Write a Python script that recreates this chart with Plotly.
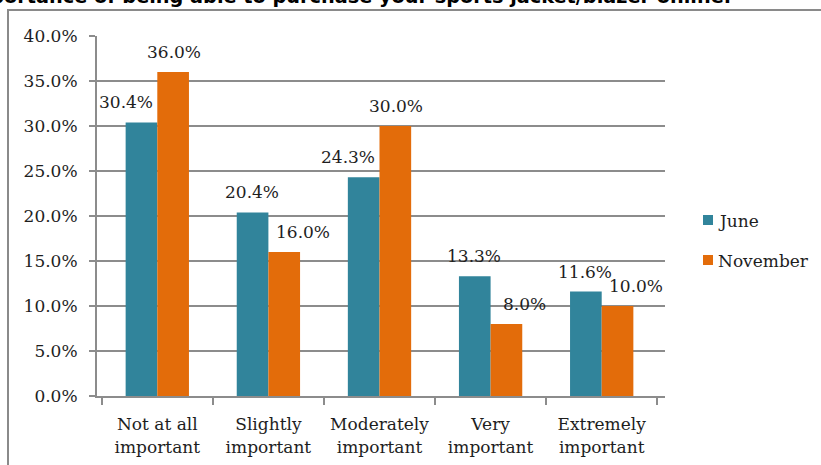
import plotly.graph_objects as go

categories = ["Not at all<br>important", "Slightly<br>important", "Moderately<br>important",
              "Very<br>important", "Extremely<br>important"]
series_names = ["June", "November"]
june = [30.4, 20.4, 24.3, 13.3, 11.6]
november = [36.0, 16.0, 30.0, 8.0, 10.0]
y_ticks = [0, 5, 10, 15, 20, 25, 30, 35, 40]
title_text = "Importance of being able to purchase your sports jacket/blazer online."

JUNE_COLOR = "#31849B"
NOV_COLOR = "#E36C0A"
GRID = "#8C8C8C"
SERIF = "DejaVu Serif, Liberation Serif, serif"
TXT = "#1E1E1E"

W, H = 821, 465
L, R, T, B = 97, 156, 36, 69
PW, PH = W - L - R, H - T - B


def px_x(x):
    return (x - L) / PW


def px_y(y):
    return (H - B - y) / PH


fig = go.Figure()
for name, vals, col in zip(series_names, (june, november), (JUNE_COLOR, NOV_COLOR)):
    fig.add_trace(go.Bar(name=name, x=categories, y=vals, marker_color=col,
                         marker_line_width=0, showlegend=False))

# value labels; when a bar is the shorter of its pair its label is nudged outward
half = 16.3
for i, c in enumerate(categories):
    j, n = june[i], november[i]
    jshift = -half - (15 if j < n else 0)
    nshift = half + (18 if n < j else 0)
    for val, xs in ((j, jshift), (n, nshift)):
        fig.add_annotation(x=c, y=val, xref="x", yref="y", text=f"{val:.1f}%",
                           showarrow=False, xshift=xs, yanchor="bottom", yshift=8,
                           font=dict(family=SERIF, size=17, color=TXT))

# legend: colour key squares with series names beside them
for k, (name, col) in enumerate(zip(series_names, (JUNE_COLOR, NOV_COLOR))):
    top = 215 + 40 * k
    fig.add_shape(type="rect", xref="paper", yref="paper",
                  x0=px_x(703), x1=px_x(713), y0=px_y(top + 10), y1=px_y(top),
                  line_width=0, fillcolor=col)
    fig.add_annotation(x=px_x(716), y=px_y(top + 6), xref="paper", yref="paper",
                       xanchor="left", yanchor="middle", showarrow=False, text=name,
                       font=dict(family=SERIF, size=17, color=TXT))

# chart title (runs off the top-left edge of the frame)
fig.add_annotation(x=px_x(733), y=px_y(10), xref="paper", yref="paper",
                   xanchor="right", yanchor="bottom", showarrow=False,
                   text=f"<b>{title_text}</b>",
                   font=dict(family="DejaVu Sans, Liberation Sans, sans-serif", size=19.3,
                             color="#000000"))

# outer frame
fig.add_shape(type="rect", xref="paper", yref="paper",
              x0=px_x(8), x1=px_x(835), y0=px_y(480), y1=px_y(10),
              line=dict(color="#8A8A8A", width=2), fillcolor="rgba(0,0,0,0)", layer="below")

fig.update_layout(
    width=W, height=H,
    margin=dict(l=L, r=R, t=T, b=B, autoexpand=False),
    paper_bgcolor="white", plot_bgcolor="white",
    barmode="group", bargap=0.43, bargroupgap=0,
    showlegend=False,
    xaxis=dict(showline=True, linecolor=GRID, linewidth=2, ticks="outside",
               tickson="boundaries", ticklen=7, tickcolor=GRID, tickwidth=2,
               tickangle=0, automargin=False, ticklabelstandoff=12,
               tickfont=dict(family=SERIF, size=17, color=TXT), showgrid=False),
    yaxis=dict(range=[0, 40], tickvals=y_ticks, ticktext=[f"{v:.1f}%" for v in y_ticks],
               showline=True, linecolor=GRID, linewidth=2, ticks="outside", ticklen=6,
               tickcolor=GRID, tickwidth=2, showgrid=True, gridcolor=GRID, gridwidth=1.5,
               zeroline=False, ticklabelstandoff=8, automargin=False,
               tickfont=dict(family=SERIF, size=17, color=TXT)),
)

fig.write_html("out.html")
